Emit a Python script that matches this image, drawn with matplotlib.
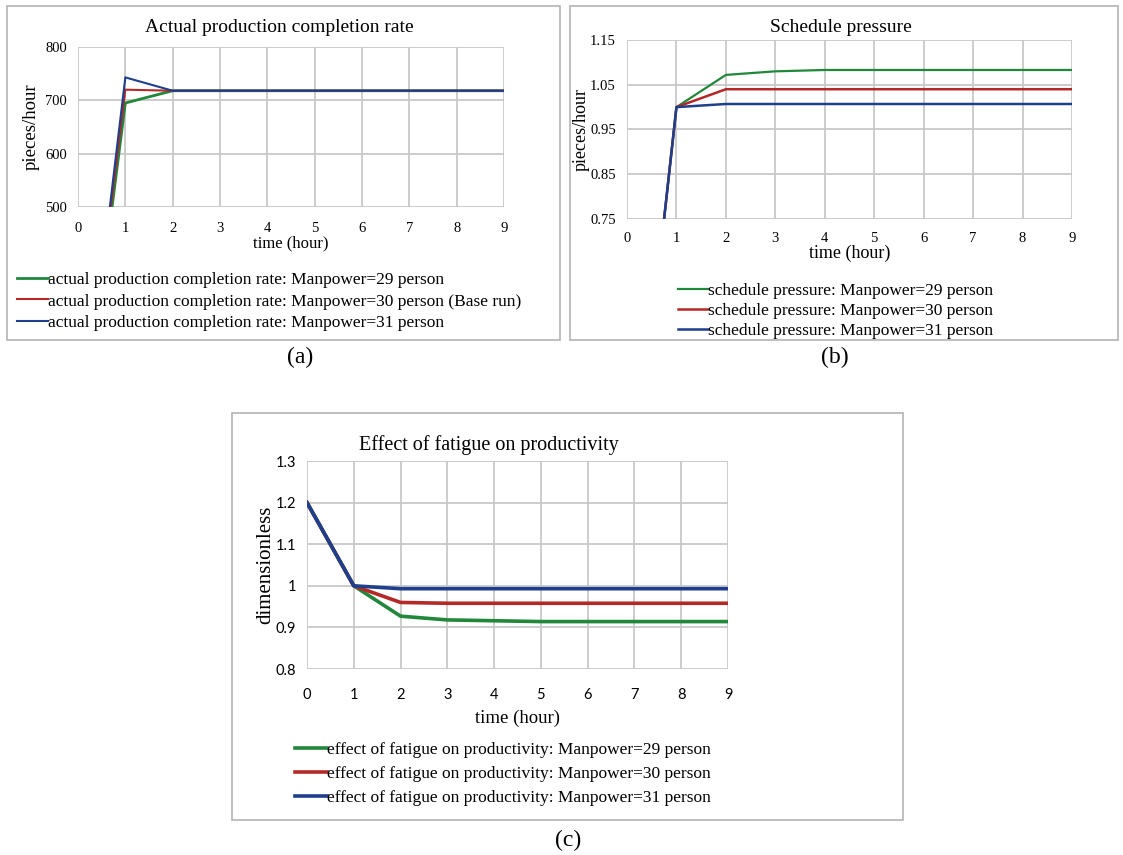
import matplotlib
matplotlib.use('Agg')
import matplotlib.pyplot as plt
from matplotlib.patches import Rectangle

plt.rcParams['font.family'] = ['Liberation Serif', 'DejaVu Serif']

# 데이터
hours = [0, 1, 2, 3, 4, 5, 6, 7, 8, 9]

rate_29 = [0, 695, 718, 718, 718, 718, 718, 718, 718, 718]
rate_30 = [0, 720, 718, 718, 718, 718, 718, 718, 718, 718]
rate_31 = [0, 743, 718, 718, 718, 718, 718, 718, 718, 718]

pressure_29 = [0, 1.0, 1.072, 1.080, 1.083, 1.083, 1.083, 1.083, 1.083, 1.083]
pressure_30 = [0, 1.0, 1.040, 1.040, 1.040, 1.040, 1.040, 1.040, 1.040, 1.040]
pressure_31 = [0, 1.0, 1.007, 1.007, 1.007, 1.007, 1.007, 1.007, 1.007, 1.007]

fatigue_29 = [1.2, 1.0, 0.927, 0.918, 0.916, 0.914, 0.914, 0.914, 0.914, 0.914]
fatigue_30 = [1.2, 1.0, 0.960, 0.958, 0.958, 0.958, 0.958, 0.958, 0.958, 0.958]
fatigue_31 = [1.2, 1.0, 0.993, 0.993, 0.993, 0.993, 0.993, 0.993, 0.993, 0.993]

manpower = [29, 30, 31]

green = '#21873a'
red = '#b42828'
blue = '#1f3f8c'
grid_color = '#c8c8c8'

W, H = 1123, 855
fig = plt.figure(figsize=(W / 100, H / 100), dpi=100)


def px_axes(left, top, right, bottom):
    return fig.add_axes([left / W, 1 - bottom / H, (right - left) / W, (bottom - top) / H])


def px_box(left, top, right, bottom):
    fig.patches.append(Rectangle((left / W, 1 - bottom / H), (right - left) / W, (bottom - top) / H,
                                 transform=fig.transFigure, fill=False, edgecolor='#b4b4b4', lw=1.2))


def style_axes(ax, yticks, ylim, tick_font, tick_size, xpad=8):
    ax.set_xlim(0, 9)
    ax.set_ylim(*ylim)
    ax.set_xticks(hours)
    ax.set_yticks(yticks)
    ax.grid(True, color=grid_color, lw=1.3)
    ax.set_axisbelow(True)
    for s in ax.spines.values():
        s.set_visible(False)
    ax.tick_params(length=0, labelsize=tick_size)
    ax.tick_params(axis='x', pad=xpad)
    ax.tick_params(axis='y', pad=8)
    for lab in ax.get_xticklabels() + ax.get_yticklabels():
        lab.set_fontfamily(tick_font)


def put_legend(ax, x, y, size, hlen, spacing):
    ax.legend(loc='upper left', bbox_to_anchor=(x / W, 1 - y / H), bbox_transform=fig.transFigure,
              frameon=False, fontsize=size, handlelength=hlen, handletextpad=0.0,
              labelspacing=spacing, borderpad=0, borderaxespad=0)


# (a) 실제 생산 완료율
px_box(7, 6, 560, 340)
ax1 = px_axes(78, 47, 504, 207)
ax1.plot(hours, rate_29, color=green, lw=2.0,
         label=f'actual production completion rate: Manpower={manpower[0]} person')
ax1.plot(hours, rate_30, color=red, lw=1.5,
         label=f'actual production completion rate: Manpower={manpower[1]} person (Base run)')
ax1.plot(hours, rate_31, color=blue, lw=1.5,
         label=f'actual production completion rate: Manpower={manpower[2]} person')
style_axes(ax1, [500, 600, 700, 800], (500, 800), 'Liberation Serif', 10.5, xpad=11)
ax1.set_title('Actual production completion rate', fontsize=14, pad=11, x=0.473)
ax1.set_xlabel('time (hour)', fontsize=12, labelpad=0)
ax1.set_ylabel('pieces/hour', fontsize=13.5, labelpad=4)
put_legend(ax1, 17, 272, 12.5, 1.8, 0.3)

# (b) 일정 압박
px_box(570, 6, 1118, 340)
ax2 = px_axes(627, 40, 1072, 219)
ax2.plot(hours, pressure_29, color=green, lw=1.6,
         label=f'schedule pressure: Manpower={manpower[0]} person')
ax2.plot(hours, pressure_30, color=red, lw=1.8,
         label=f'schedule pressure: Manpower={manpower[1]} person')
ax2.plot(hours, pressure_31, color=blue, lw=1.8,
         label=f'schedule pressure: Manpower={manpower[2]} person')
style_axes(ax2, [0.75, 0.85, 0.95, 1.05, 1.15], (0.75, 1.15), 'Liberation Serif', 10.5, xpad=9)
ax2.set_yticklabels(['0.75', '0.85', '0.95', '1.05', '1.15'])
ax2.set_title('Schedule pressure', fontsize=14, pad=6, x=0.481)
ax2.set_xlabel('time (hour)', fontsize=13, labelpad=0)
ax2.set_ylabel('pieces/hour', fontsize=13, labelpad=0)
put_legend(ax2, 678, 283, 12.5, 1.75, 0.22)

# (c) 피로가 생산성에 미치는 영향
px_box(232, 413, 903, 820)
ax3 = px_axes(307, 461, 728, 669)
ax3.plot(hours, fatigue_29, color=green, lw=2.6,
         label=f'effect of fatigue on productivity: Manpower={manpower[0]} person')
ax3.plot(hours, fatigue_30, color=red, lw=2.6,
         label=f'effect of fatigue on productivity: Manpower={manpower[1]} person')
ax3.plot(hours, fatigue_31, color=blue, lw=2.6,
         label=f'effect of fatigue on productivity: Manpower={manpower[2]} person')
style_axes(ax3, [0.8, 0.9, 1.0, 1.1, 1.2, 1.3], (0.8, 1.3), 'Lato', 10.5, xpad=14)
ax3.set_yticklabels(['0.8', '0.9', '1', '1.1', '1.2', '1.3'])
ax3.set_title('Effect of fatigue on productivity', fontsize=14.5, pad=8, x=0.432)
ax3.set_xlabel('time (hour)', fontsize=13.5, labelpad=5)
ax3.set_ylabel('dimensionless', fontsize=15, labelpad=0)
put_legend(ax3, 295, 742, 12.5, 1.85, 0.45)

fig.text(300 / W, 1 - 357 / H, '(a)', fontsize=17, ha='center', va='center')
fig.text(835 / W, 1 - 357 / H, '(b)', fontsize=17, ha='center', va='center')
fig.text(568 / W, 1 - 840 / H, '(c)', fontsize=17, ha='center', va='center')

fig.savefig('out.png', dpi=100)
